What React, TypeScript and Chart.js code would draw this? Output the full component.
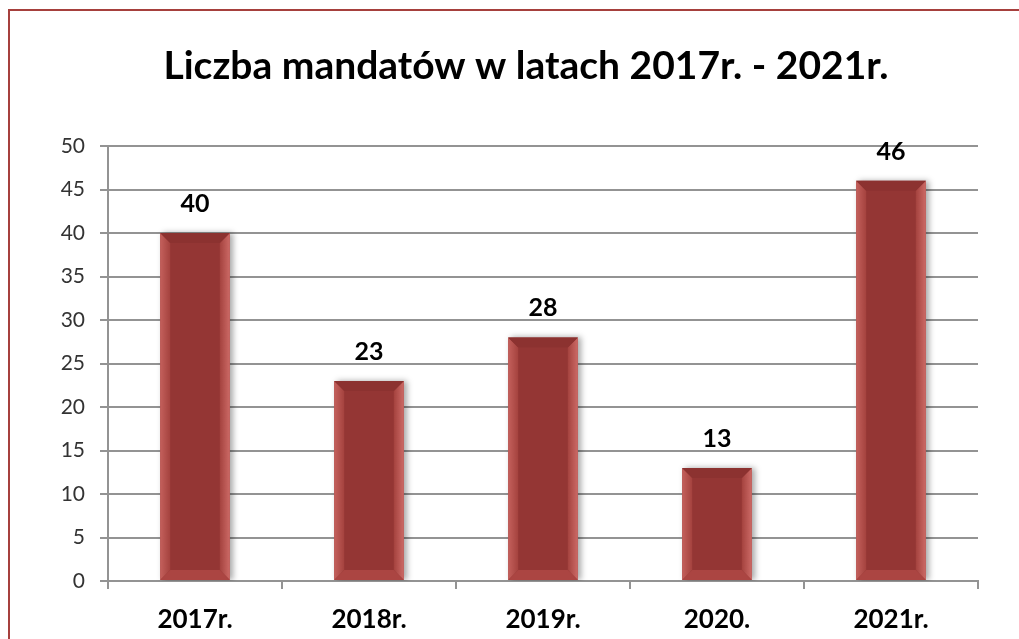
import React, { useEffect, useRef } from "react";
import { Chart, registerables } from "chart.js";

Chart.register(...registerables);

const categories = ["2017r.", "2018r.", "2019r.", "2020.", "2021r."];
const values = [40, 23, 28, 13, 46];
const yMin = 0;
const yMax = 50;
const yStep = 5;
const titleText = "Liczba mandatów w latach 2017r. - 2021r.";

const FONT = "Lato, 'Open Sans', sans-serif";
const GRID = "#939393";

const titlePlugin = {
  id: "customTitle",
  afterDraw(chart: any) {
    const ctx = chart.ctx;
    ctx.save();
    ctx.font = `bold 39px ${FONT}`;
    ctx.fillStyle = "#000";
    ctx.textAlign = "center";
    ctx.textBaseline = "alphabetic";
    const cx = (chart.chartArea.left + chart.chartArea.right) / 2 - 17;
    ctx.fillText(titleText, cx, chart.chartArea.top - 67);
    ctx.restore();
  },
};

const bevelPlugin = {
  id: "bevel",
  beforeDatasetsDraw(chart: any) {
    const ctx = chart.ctx;
    ctx.save();
    ctx.shadowColor = "rgba(0,0,0,0.35)";
    ctx.shadowBlur = 6;
    ctx.shadowOffsetX = 3;
    ctx.shadowOffsetY = 0;
  },
  afterDatasetsDraw(chart: any) {
    const ctx = chart.ctx;
    ctx.restore();
    const meta = chart.getDatasetMeta(0);
    meta.data.forEach((bar: any) => {
      const { x, y, base, width } = bar.getProps(["x", "y", "base", "width"], true);
      const l = x - width / 2;
      const r = x + width / 2;
      const t = y;
      const b = base;
      const s = 10;
      ctx.save();
      let g = ctx.createLinearGradient(l, 0, l + s, 0);
      g.addColorStop(0, "#c4605c");
      g.addColorStop(1, "#a4423e");
      ctx.fillStyle = g;
      ctx.beginPath();
      ctx.moveTo(l, t);
      ctx.lineTo(l + s, t + s);
      ctx.lineTo(l + s, b - s);
      ctx.lineTo(l, b);
      ctx.closePath();
      ctx.fill();
      g = ctx.createLinearGradient(r - s, 0, r, 0);
      g.addColorStop(0, "#a4423e");
      g.addColorStop(1, "#cc6a66");
      ctx.fillStyle = g;
      ctx.beginPath();
      ctx.moveTo(r, t);
      ctx.lineTo(r - s, t + s);
      ctx.lineTo(r - s, b - s);
      ctx.lineTo(r, b);
      ctx.closePath();
      ctx.fill();
      ctx.fillStyle = "#8c3230";
      ctx.beginPath();
      ctx.moveTo(l, t);
      ctx.lineTo(r, t);
      ctx.lineTo(r - s, t + s);
      ctx.lineTo(l + s, t + s);
      ctx.closePath();
      ctx.fill();
      ctx.fillStyle = "#ab4542";
      ctx.beginPath();
      ctx.moveTo(l, b);
      ctx.lineTo(r, b);
      ctx.lineTo(r - s, b - s);
      ctx.lineTo(l + s, b - s);
      ctx.closePath();
      ctx.fill();
      ctx.restore();
    });
  },
};

const valueLabelPlugin = {
  id: "valueLabels",
  afterDatasetsDraw(chart: any) {
    const ctx = chart.ctx;
    const meta = chart.getDatasetMeta(0);
    ctx.save();
    ctx.font = `bold 25px ${FONT}`;
    ctx.fillStyle = "#000";
    ctx.textAlign = "center";
    ctx.textBaseline = "middle";
    meta.data.forEach((bar: any, i: number) => {
      ctx.fillText(String(values[i]), bar.x, bar.y - 29);
    });
    ctx.restore();
  },
};

export default function App() {
  const ref = useRef<HTMLCanvasElement | null>(null);

  useEffect(() => {
    if (!ref.current) return;
    const chart = new Chart(ref.current, {
      type: "bar",
      data: {
        labels: categories,
        datasets: [
          {
            data: values,
            backgroundColor: "#943634",
            borderWidth: 0,
            categoryPercentage: 1,
            barPercentage: 0.4,
          },
        ],
      },
      options: {
        responsive: false,
        animation: false,
        devicePixelRatio: 1,
        layout: { padding: { left: 0, right: 72, top: 135, bottom: 0 } },
        plugins: {
          legend: { display: false },
          tooltip: { enabled: false },
          title: { display: false },
        },
        scales: {
          x: {
            offset: true,
            grid: {
              offset: true,
              drawOnChartArea: false,
              drawTicks: true,
              tickLength: 8,
              color: GRID,
              lineWidth: 2,
            },
            border: { display: true, color: GRID, width: 2 },
            ticks: {
              color: "#000",
              font: { family: FONT, size: 26, weight: "bold" },
              padding: 15,
            },
            afterFit: (scale: any) => {
              scale.height = 90;
            },
          },
          y: {
            min: yMin,
            max: yMax,
            ticks: {
              stepSize: yStep,
              color: "#333333",
              font: { family: FONT, size: 21 },
              padding: 15,
            },
            grid: {
              color: GRID,
              lineWidth: 2,
              drawTicks: true,
              tickLength: 8,
            },
            border: { display: true, color: GRID, width: 2 },
            afterFit: (scale: any) => {
              scale.width = 98;
            },
          },
        },
      },
      plugins: [bevelPlugin, valueLabelPlugin, titlePlugin],
    });
    return () => chart.destroy();
  }, []);

  return (
    <div
      style={{
        position: "fixed",
        left: 8,
        top: 9,
        border: "2px solid #a6403d",
        background: "#fff",
        width: 1040,
        height: 660,
      }}
    >
      <canvas ref={ref} width={1040} height={660} style={{ display: "block" }} />
    </div>
  );
}
